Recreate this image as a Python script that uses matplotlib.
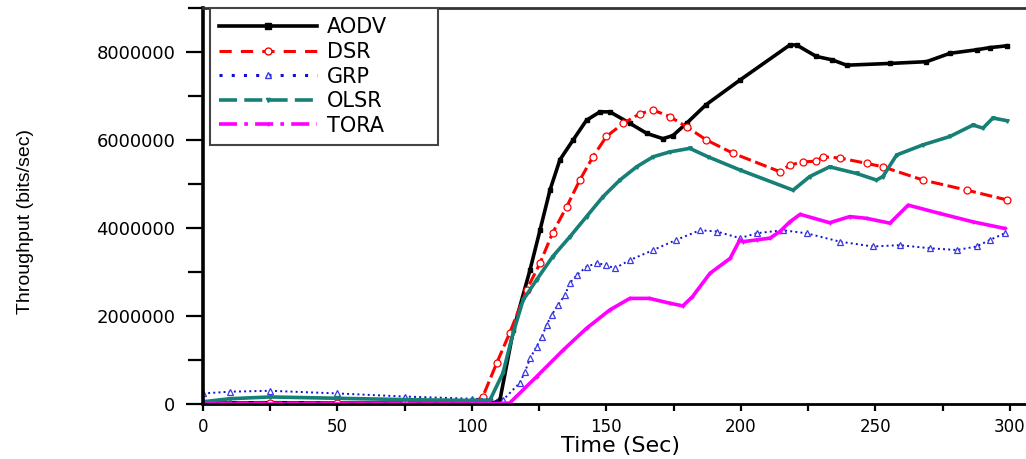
import numpy as np
import matplotlib
matplotlib.use("Agg")
import matplotlib.pyplot as plt
from matplotlib.lines import Line2D
from matplotlib.ticker import MultipleLocator

# throughput, in millions of bits/sec
aodv_t = [0, 25, 50, 75, 100, 108, 110.4, 115.4, 121.6, 125.3, 129, 132.7, 137.6, 142.6, 147.6,
          151.3, 158.7, 165, 171, 174.7, 179.8, 187, 199.6, 218.2, 220.7, 228, 234, 239.3,
          255.4, 269, 277.7, 287.6, 292.6, 298.8]
aodv_v = [0.02, 0.03, 0.02, 0.02, 0.02, 0.02, 0.09, 1.68, 3.05, 3.95, 4.86, 5.55, 6.0, 6.45, 6.64,
          6.64, 6.38, 6.15, 6.03, 6.1, 6.38, 6.8, 7.36, 8.16, 8.16, 7.9, 7.82, 7.7,
          7.74, 7.78, 7.97, 8.05, 8.1, 8.14]

dsr_t = [0, 25, 50, 75, 100, 104, 109.2, 114, 120.3, 125.3, 130, 135.2, 140.1, 145, 150, 156.3,
         162.5, 167.4, 173.6, 179.8, 187.2, 197, 214.5, 218.2, 223, 228, 230.5, 236.8, 246.7,
         252.8, 267.7, 284, 298.8]
dsr_v = [0.03, 0.03, 0.03, 0.02, 0.02, 0.16, 0.93, 1.61, 2.59, 3.2, 3.89, 4.48, 5.09, 5.62, 6.08, 6.38,
         6.6, 6.68, 6.53, 6.3, 6.0, 5.7, 5.28, 5.43, 5.5, 5.52, 5.62, 5.59, 5.47,
         5.39, 5.09, 4.86, 4.64]

grp_t = [0, 10, 25, 50, 75, 100, 111.5, 117.8, 119.7, 121.6, 124, 126, 127.8, 129.6, 132, 134.6,
         136.4, 139, 142.6, 146.4, 150, 153, 158.7, 167.4, 176, 184.8, 191, 199.6, 205.8, 215.6,
         224.4, 236.8, 249, 259, 270.3, 280.2, 287.6, 292.6, 298.1]
grp_v = [0.24, 0.28, 0.3, 0.24, 0.17, 0.12, 0.09, 0.48, 0.73, 1.04, 1.3, 1.53, 1.8, 2.02, 2.25, 2.48,
         2.75, 2.93, 3.12, 3.2, 3.16, 3.08, 3.27, 3.5, 3.73, 3.95, 3.92, 3.77, 3.88, 3.95,
         3.88, 3.69, 3.58, 3.61, 3.54, 3.5, 3.58, 3.73, 3.88]

olsr_t = [0, 10, 25, 50, 75, 100, 106.7, 111.5, 115.3, 119, 124, 130, 136.4, 142.6, 148.7, 155,
          161.2, 167.4, 173.6, 181, 187.7, 199.6, 219.4, 225.6, 233, 243, 250.4, 252.8, 257.9,
          267.7, 277.7, 286.3, 290, 293.7, 298.8]
olsr_v = [0.05, 0.12, 0.16, 0.13, 0.1, 0.08, 0.09, 0.7, 1.61, 2.36, 2.82, 3.35, 3.8, 4.26, 4.71, 5.09,
          5.39, 5.62, 5.73, 5.81, 5.62, 5.32, 4.86, 5.17, 5.39, 5.24, 5.09, 5.17, 5.66,
          5.89, 6.08, 6.34, 6.27, 6.5, 6.44]

tora_t = [0, 50, 100, 114, 124, 134, 142.6, 151.3, 158.7, 166, 173.6, 178.4, 182, 188.5, 196,
          199.6, 200.8, 205.8, 210.8, 214.5, 218.2, 222, 233, 240.5, 246.7, 255.4, 262.2, 274,
          286.3, 298.1]
tora_v = [0, 0, 0, 0.02, 0.62, 1.23, 1.72, 2.14, 2.4, 2.4, 2.29, 2.23, 2.44, 2.97, 3.31,
          3.73, 3.69, 3.73, 3.77, 3.92, 4.14, 4.31, 4.12, 4.26, 4.22, 4.11, 4.52, 4.33,
          4.14, 3.99]

labels = ["AODV", "DSR", "GRP", "OLSR", "TORA"]
teal = "#168077"

fig = plt.figure(figsize=(10.26, 4.59), dpi=100)
ax = fig.add_axes([203 / 1026, 55 / 459, 823 / 1026, 396 / 459])

ax.plot(aodv_t, np.array(aodv_v) * 1e6, color="black", lw=2.6, marker="s", ms=2.5)
ax.plot(dsr_t, np.array(dsr_v) * 1e6, color="red", lw=2.2, ls=(0, (4, 1.5)),
        marker="o", ms=5, mfc="white", mec="red", mew=0.9)
ax.plot(grp_t, np.array(grp_v) * 1e6, color="#1010d0", lw=1.4, ls=":",
        marker="^", ms=5, mfc="white", mec="#3a3ae0", mew=0.9)
ax.plot(olsr_t, np.array(olsr_v) * 1e6, color=teal, lw=2.6, marker="v", ms=2.5)
ax.plot(tora_t, np.array(tora_v) * 1e6, color="#ff00ff", lw=2.6, marker="+", ms=3)

ax.set_xlim(0, 306)
ax.set_ylim(0, 9e6)
ax.xaxis.set_major_locator(MultipleLocator(50))
ax.xaxis.set_minor_locator(MultipleLocator(25))
ax.yaxis.set_major_locator(MultipleLocator(2e6))
ax.yaxis.set_minor_locator(MultipleLocator(1e6))
ax.ticklabel_format(style="plain", axis="y", useOffset=False)

ax.spines["right"].set_visible(False)
ax.spines["left"].set_linewidth(2.6)
ax.spines["bottom"].set_linewidth(2.0)
ax.spines["top"].set_linewidth(2.0)
ax.spines["top"].set_color("#333333")

ax.tick_params(axis="both", which="both", direction="out", width=1.6)
ax.tick_params(axis="y", which="major", length=12, pad=8, labelsize=13)
ax.tick_params(axis="y", which="minor", length=11)
ax.tick_params(axis="x", which="major", length=5, pad=5, labelsize=12)
ax.tick_params(axis="x", which="minor", length=5)
for lab in ax.get_xticklabels() + ax.get_yticklabels():
    lab.set_family("DejaVu Sans")

ax.set_xlabel("Time (Sec)", fontsize=16, family="DejaVu Sans")
ax.xaxis.set_label_coords(0.507, -0.08)
ax.set_ylabel("Throughput (bits/sec)", fontsize=14, family="Liberation Sans")
ax.yaxis.set_label_coords(-0.205, 0.462)

# legend shows the dash patterns of the original
handles = [
    Line2D([], [], color="black", lw=2.6, marker="s", ms=4),
    Line2D([], [], color="red", lw=2.2, ls=(0, (4, 3)), marker="o", ms=5, mfc="white", mec="red"),
    Line2D([], [], color="#1010d0", lw=2.2, ls=(0, (1, 3)), marker="^", ms=5, mfc="white", mec="#3a3ae0"),
    Line2D([], [], color=teal, lw=2.6, ls=(0, (5, 2)), marker="v", ms=3),
    Line2D([], [], color="#ff00ff", lw=2.6, ls=(0, (5, 2, 1, 2)), marker="+", ms=3),
]
leg = ax.legend(handles, labels, loc="upper left",
                bbox_to_anchor=(7 / 823, 0, 228 / 823, 1.0), mode="expand",
                borderaxespad=0, fancybox=False, framealpha=1, edgecolor="#444444",
                prop={"family": "DejaVu Sans", "size": 15}, handlelength=4.7,
                handletextpad=0.45, labelspacing=0.22, numpoints=1, borderpad=0.45)
leg.get_frame().set_linewidth(1.5)

fig.savefig("out.png", dpi=100)
